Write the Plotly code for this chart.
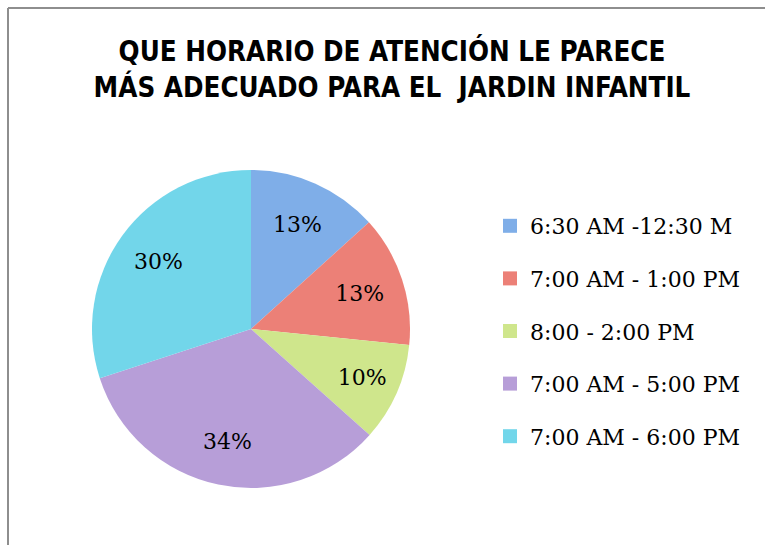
import plotly.graph_objects as go

categories = ["6:30 AM -12:30 M", "7:00 AM - 1:00 PM", "8:00 - 2:00 PM",
              "7:00 AM - 5:00 PM", "7:00 AM - 6:00 PM"]
values = [13.3, 13.3, 10.0, 33.4, 30.0]
pct_labels = ["13%", "13%", "10%", "34%", "30%"]
colors = ["#7FAEE8", "#EC8077", "#CFE68C", "#B79ED8", "#72D6EA"]

W, H = 765, 545
title_text = "QUE HORARIO DE ATENCIÓN LE PARECE<br>MÁS ADECUADO PARA EL  JARDIN INFANTIL"
pie_domain = dict(x=[92 / W, 410 / W], y=[(H - 488) / H, (H - 170) / H])

fig = go.Figure()
# filled pie
fig.add_trace(go.Pie(
    labels=categories, values=values,
    textinfo="none", sort=False, direction="clockwise", rotation=0,
    marker=dict(colors=colors, line=dict(width=0)),
    domain=pie_domain, showlegend=False, hoverinfo="label+percent",
))
# transparent ring carrying the percentage labels (places them at ~0.72 R)
fig.add_trace(go.Pie(
    labels=categories, values=values, text=pct_labels,
    textinfo="text", textposition="inside", insidetextorientation="horizontal",
    sort=False, direction="clockwise", rotation=0, hole=0.44,
    marker=dict(colors=["rgba(0,0,0,0)"] * len(values), line=dict(width=0)),
    textfont=dict(family="DejaVu Serif", size=22, color="black"),
    domain=pie_domain, showlegend=False, hoverinfo="skip",
))

for name, col in zip(categories, colors):
    fig.add_trace(go.Scatter(
        x=[None], y=[None], mode="markers", name=name, legendgroup=name,
        marker=dict(symbol="square", size=14, color=col),
    ))

fig.update_layout(
    width=W, height=H,
    margin=dict(l=0, r=0, t=0, b=0),
    paper_bgcolor="white", plot_bgcolor="white",
    xaxis=dict(visible=False), yaxis=dict(visible=False),
    title=dict(text=title_text, x=392 / W, xanchor="center",
               y=1 - 61 / H, yanchor="middle", yref="container",
               font=dict(family="Liberation Sans Narrow, DejaVu Sans Condensed, sans-serif",
                         size=27.5, color="black", weight="bold")),
    legend=dict(x=490 / W, xanchor="left", y=1 - 205 / H, yanchor="top",
                font=dict(family="DejaVu Serif", size=22, color="black"),
                tracegroupgap=21, bgcolor="rgba(0,0,0,0)"),
    shapes=[
        dict(type="line", xref="paper", yref="paper", x0=8 / W, x1=1.0,
             y0=1 - 8 / H, y1=1 - 8 / H, line=dict(color="#8E8E8E", width=2)),
        dict(type="line", xref="paper", yref="paper", x0=8 / W, x1=8 / W,
             y0=0, y1=1 - 8 / H, line=dict(color="#8E8E8E", width=2)),
    ],
)

fig.write_html("out.html", config={"displayModeBar": False},
               post_script="document.body.style.margin='0';document.body.style.overflow='hidden';")
